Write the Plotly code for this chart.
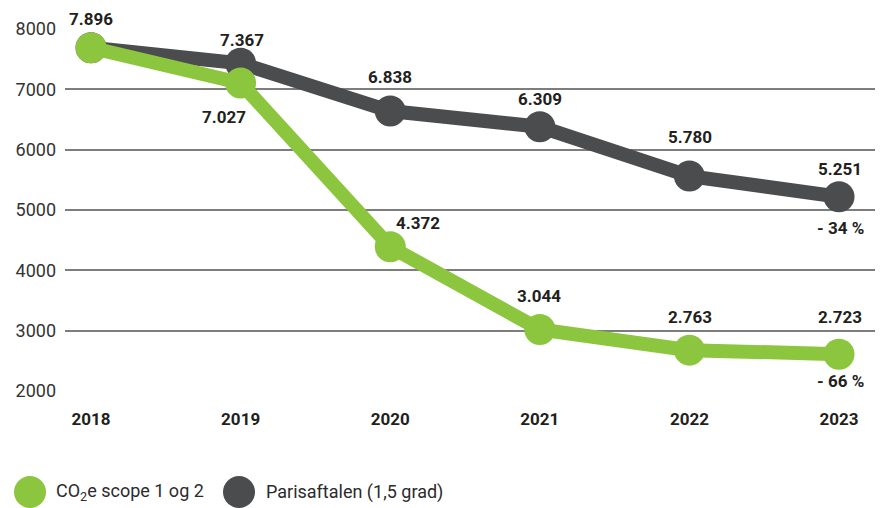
import plotly.graph_objects as go

# ---- data ----
years = [2018, 2019, 2020, 2021, 2022, 2023]
co2_values = [7690, 7104, 4390, 3020, 2677, 2610]
paris_values = [7690, 7431, 6640, 6380, 5562, 5219]
co2_labels = ["", "7.027", "4.372", "3.044", "2.763", "2.723"]
paris_labels = ["7.896", "7.367", "6.838", "6.309", "5.780", "5.251"]
reduction_labels = {"paris": "- 34 %", "co2": "- 66 %"}
series_names = ["CO<sub>2</sub>e scope 1 og 2", "Parisaftalen (1,5 grad)"]
y_ticks = [2000, 3000, 4000, 5000, 6000, 7000, 8000]

# ---- styling / label offsets (pixels) ----
GREEN = "#8CC63F"
GRAY = "#4B4C4E"
TEXT = "#231F20"
FONT = "Roboto"
paris_offsets = [(0, 29), (1, 23), (0, 34), (0, 28), (1, 39), (1, 28)]
co2_offsets = [(0, 0), (-17, -34), (28, 24), (-1, 33), (1, 33), (1, 37)]

PAGE = 8  # default body margin of the html page
W, H = 883 - PAGE, 508 - PAGE
L, R, T, B = 65 - PAGE, 6, 29 - PAGE, 117
pw, ph = W - L - R, H - T - B

fig = go.Figure()
fig.add_trace(go.Scatter(x=years, y=paris_values, mode="lines+markers",
                         line=dict(color=GRAY, width=14),
                         marker=dict(color=GRAY, size=31),
                         name=series_names[1], showlegend=False, cliponaxis=False))
fig.add_trace(go.Scatter(x=years, y=co2_values, mode="lines+markers",
                         line=dict(color=GREEN, width=14),
                         marker=dict(color=GREEN, size=31),
                         name=series_names[0], showlegend=False, cliponaxis=False))

ann = []
lab_font = dict(family=FONT, size=17, color=TEXT, weight="bold")
for x, y, t, (dx, dy) in zip(years, paris_values, paris_labels, paris_offsets):
    if t:
        ann.append(dict(x=x, y=y, xref="x", yref="y", text=f"<b>{t}</b>", showarrow=False,
                        xshift=dx, yshift=dy, font=lab_font, borderpad=0))
for x, y, t, (dx, dy) in zip(years, co2_values, co2_labels, co2_offsets):
    if t:
        ann.append(dict(x=x, y=y, xref="x", yref="y", text=f"<b>{t}</b>", showarrow=False,
                        xshift=dx, yshift=dy, font=lab_font, borderpad=0))
ann.append(dict(x=years[-1], y=paris_values[-1], xref="x", yref="y",
                text=f"<b>{reduction_labels['paris']}</b>", showarrow=False,
                xshift=1, yshift=-31, font=lab_font, borderpad=0))
ann.append(dict(x=years[-1], y=co2_values[-1], xref="x", yref="y",
                text=f"<b>{reduction_labels['co2']}</b>", showarrow=False,
                xshift=1, yshift=-27, font=lab_font, borderpad=0))

# ---- custom legend (positions given in screenshot pixels) ----
def px_x(px):
    return (px - PAGE - L) / pw

def px_y(py):
    return (H - B - (py - PAGE)) / ph

shapes = []
leg_y = px_y(492)
for cx, col, tx, name in [(30, GREEN, 54, series_names[0]), (239, GRAY, 264, series_names[1])]:
    shapes.append(dict(type="circle", xref="paper", yref="paper",
                       xsizemode="pixel", ysizemode="pixel",
                       xanchor=px_x(cx), yanchor=leg_y,
                       x0=-16, x1=16, y0=-16, y1=16,
                       fillcolor=col, line=dict(width=0)))
    ann.append(dict(x=px_x(tx), y=leg_y, xref="paper", yref="paper", text=name,
                    showarrow=False, xanchor="left", yanchor="middle",
                    font=dict(family=FONT, size=18, color="#2b2b2b")))

fig.update_layout(
    width=W, height=H,
    margin=dict(l=L, r=R, t=T, b=B),
    paper_bgcolor="white", plot_bgcolor="white",
    showlegend=False,
    annotations=ann, shapes=shapes,
    xaxis=dict(range=[2017.826, 2023.254], tickvals=years,
               ticktext=[f"<b>{y}</b>" for y in years],
               showgrid=False, zeroline=False, showline=False, ticks="",
               ticklabelstandoff=16, automargin=False,
               tickfont=dict(family=FONT, size=17, color=TEXT)),
    yaxis=dict(range=[2000, 8000], tickvals=y_ticks, showgrid=True,
               gridcolor="#7d7d7d", gridwidth=1.5, zeroline=False, showline=False,
               ticks="", ticklabelstandoff=8, automargin=False,
               tickfont=dict(family=FONT, size=18, color="#333333")),
)

fig.write_html("out.html")
